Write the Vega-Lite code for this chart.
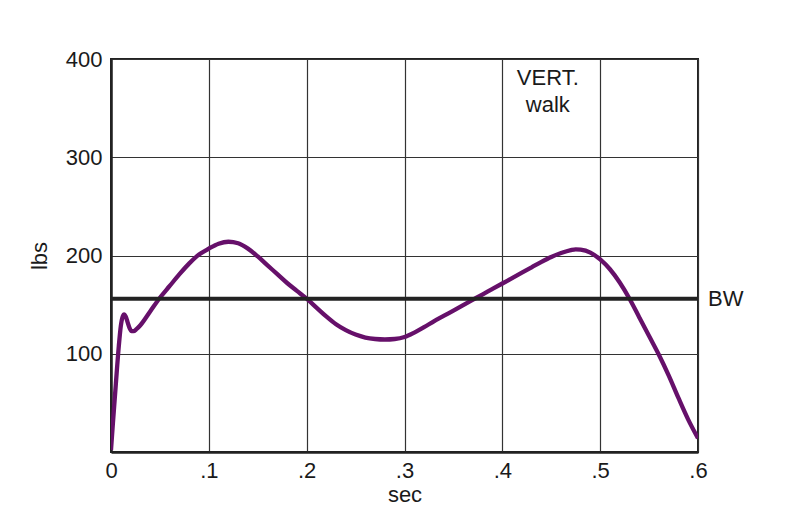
{
  "$schema": "https://vega.github.io/schema/vega-lite/v6.json",
  "width": 587,
  "height": 393,
  "autosize": "none",
  "padding": {"left": 111, "top": 59, "right": 93, "bottom": 61},
  "background": "white",
  "config": {
    "font": "Liberation Sans",
    "view": {"stroke": "#222", "strokeWidth": 2},
    "axis": {
      "labelFont": "Liberation Sans",
      "titleFont": "Liberation Sans",
      "labelFontSize": 22,
      "titleFontSize": 22,
      "titleFontWeight": "normal",
      "labelColor": "#1a1a1a",
      "titleColor": "#1a1a1a",
      "ticks": false,
      "gridColor": "#333",
      "gridWidth": 1.2,
      "gridOpacity": 1,
      "domainColor": "#222",
      "domainWidth": 2.5
    }
  },
  "datasets": {
    "curve": [
      {"t": 0, "lbs": 2}, {"t": 0.002, "lbs": 30}, {"t": 0.005, "lbs": 70}, {"t": 0.008, "lbs": 108},
      {"t": 0.010, "lbs": 128}, {"t": 0.012, "lbs": 138}, {"t": 0.0135, "lbs": 140}, {"t": 0.015, "lbs": 138},
      {"t": 0.017, "lbs": 132}, {"t": 0.019, "lbs": 126}, {"t": 0.021, "lbs": 123}, {"t": 0.023, "lbs": 123},
      {"t": 0.026, "lbs": 125}, {"t": 0.03, "lbs": 129}, {"t": 0.04, "lbs": 143}, {"t": 0.05, "lbs": 157},
      {"t": 0.06, "lbs": 169}, {"t": 0.07, "lbs": 181}, {"t": 0.08, "lbs": 192}, {"t": 0.09, "lbs": 201},
      {"t": 0.10, "lbs": 207}, {"t": 0.11, "lbs": 212}, {"t": 0.12, "lbs": 214}, {"t": 0.13, "lbs": 212.5},
      {"t": 0.14, "lbs": 207}, {"t": 0.15, "lbs": 199}, {"t": 0.16, "lbs": 190}, {"t": 0.17, "lbs": 181},
      {"t": 0.18, "lbs": 172}, {"t": 0.19, "lbs": 164}, {"t": 0.20, "lbs": 156}, {"t": 0.21, "lbs": 147},
      {"t": 0.22, "lbs": 138}, {"t": 0.23, "lbs": 130}, {"t": 0.24, "lbs": 124}, {"t": 0.25, "lbs": 119.5},
      {"t": 0.26, "lbs": 116.5}, {"t": 0.27, "lbs": 115}, {"t": 0.28, "lbs": 114.5}, {"t": 0.29, "lbs": 115},
      {"t": 0.30, "lbs": 117}, {"t": 0.31, "lbs": 121.5}, {"t": 0.32, "lbs": 127}, {"t": 0.33, "lbs": 133},
      {"t": 0.34, "lbs": 138.5}, {"t": 0.35, "lbs": 144}, {"t": 0.36, "lbs": 149.5}, {"t": 0.37, "lbs": 155},
      {"t": 0.38, "lbs": 160.5}, {"t": 0.39, "lbs": 166}, {"t": 0.40, "lbs": 171.5}, {"t": 0.41, "lbs": 177},
      {"t": 0.42, "lbs": 182.5}, {"t": 0.43, "lbs": 188}, {"t": 0.44, "lbs": 193.5}, {"t": 0.45, "lbs": 198.5},
      {"t": 0.46, "lbs": 202.5}, {"t": 0.47, "lbs": 205.5}, {"t": 0.475, "lbs": 206.3}, {"t": 0.48, "lbs": 206},
      {"t": 0.49, "lbs": 203}, {"t": 0.50, "lbs": 196}, {"t": 0.51, "lbs": 186}, {"t": 0.52, "lbs": 172.5},
      {"t": 0.53, "lbs": 156}, {"t": 0.54, "lbs": 137}, {"t": 0.55, "lbs": 118}, {"t": 0.56, "lbs": 99},
      {"t": 0.57, "lbs": 78}, {"t": 0.58, "lbs": 55}, {"t": 0.59, "lbs": 33}, {"t": 0.60, "lbs": 14}
    ],
    "notes": [
      {"t": 0.4465, "lbs": 381, "label": "VERT."},
      {"t": 0.4465, "lbs": 353, "label": "walk"}
    ],
    "bw": [{"t": 0.6, "lbs": 156, "label": "BW"}]
  },
  "layer": [
    {
      "data": {"name": "curve"},
      "mark": {"type": "line", "color": "#66106a", "strokeWidth": 4.3, "interpolate": "monotone", "clip": true},
      "encoding": {
        "x": {
          "field": "t", "type": "quantitative", "title": "sec",
          "scale": {"domain": [0, 0.6], "nice": false, "zero": false},
          "axis": {
            "values": [0, 0.1, 0.2, 0.3, 0.4, 0.5, 0.6],
            "labelExpr": "datum.value == 0 ? '0' : replace(format(datum.value, '.1f'), '0.', '.')",
            "labelPadding": 8, "titlePadding": 3, "labelFlush": false
          }
        },
        "y": {
          "field": "lbs", "type": "quantitative", "title": "lbs",
          "scale": {"domain": [0, 400], "nice": false},
          "axis": {"values": [100, 200, 300, 400], "labelPadding": 9, "titlePadding": 14, "labelFlush": false}
        }
      }
    },
    {
      "data": {"name": "bw"},
      "mark": {"type": "rule", "color": "#222", "strokeWidth": 4},
      "encoding": {"y": {"field": "lbs", "type": "quantitative"}}
    },
    {
      "data": {"name": "bw"},
      "mark": {"type": "text", "align": "left", "baseline": "middle", "dx": 10, "fontSize": 22, "color": "#1a1a1a"},
      "encoding": {
        "x": {"field": "t", "type": "quantitative"},
        "y": {"field": "lbs", "type": "quantitative"},
        "text": {"field": "label"}
      }
    },
    {
      "data": {"name": "notes"},
      "mark": {"type": "text", "align": "center", "baseline": "middle", "fontSize": 22, "color": "#1a1a1a"},
      "encoding": {
        "x": {"field": "t", "type": "quantitative"},
        "y": {"field": "lbs", "type": "quantitative"},
        "text": {"field": "label"}
      }
    }
  ]
}
